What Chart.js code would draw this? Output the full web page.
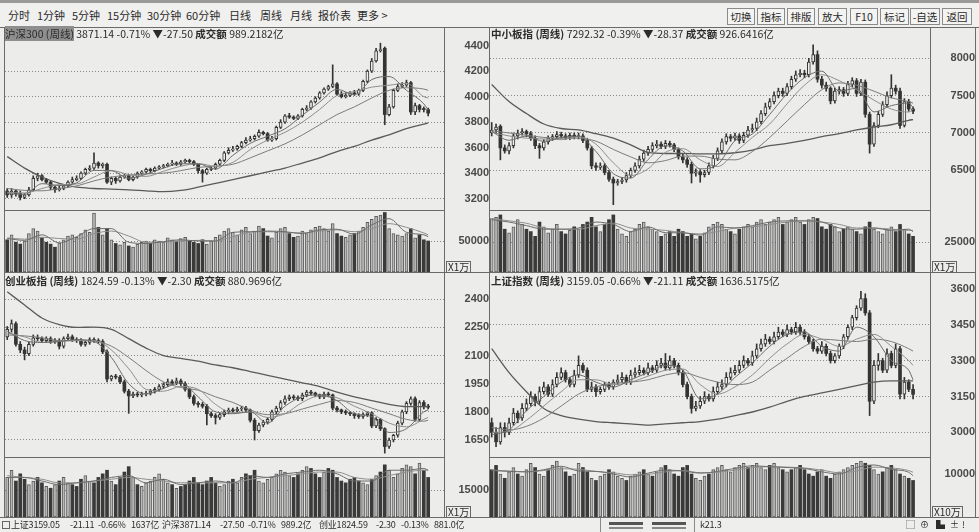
<!DOCTYPE html>
<html>
<head>
<meta charset="utf-8">
<title>周线 四窗口</title>
<script src="https://cdn.jsdelivr.net/npm/chart.js@4.4.1/dist/chart.umd.min.js"></script>
<style>
  body { margin:0; width:979px; height:532px; background:#ececea; position:relative; overflow:hidden;
         font-family:"Noto Sans CJK SC", "Liberation Sans", sans-serif; color:#2b2b2b; }
  .tb { position:absolute; top:6px; font-size:11px; line-height:18px; white-space:nowrap; }
  .btn { position:absolute; top:8px; height:15px; border:1px solid #8a8a8a; font-size:10.5px; line-height:15px;
         text-align:center; background:#f3f3f1; }
  .hdr { position:absolute; font-size:10.5px; line-height:12px; white-space:nowrap; }
  .hdr b { font-weight:bold; }
  .hdr .hi { background:#8e8e8e; }
  .unit { position:absolute; border:1px solid #666; font-size:10px; line-height:10px; padding:0 1px; white-space:nowrap; }
  .st { position:absolute; top:519px; font-size:9px; line-height:12px; white-space:nowrap; letter-spacing:-0.2px; }
  canvas { position:absolute; }
</style>
</head>
<body>
<div style="position:absolute;left:0;top:0;width:979px;height:3px;background:#9a9a9a"></div>
<div style="position:absolute;left:0;top:3px;width:979px;height:24px;background:#f0f0ee"></div>

<span class="tb" style="left:8px">分时</span>
<span class="tb" style="left:37px">1分钟</span>
<span class="tb" style="left:72px">5分钟</span>
<span class="tb" style="left:107px">15分钟</span>
<span class="tb" style="left:147px">30分钟</span>
<span class="tb" style="left:186px">60分钟</span>
<span class="tb" style="left:229px">日线</span>
<span class="tb" style="left:260px">周线</span>
<span class="tb" style="left:290px">月线</span>
<span class="tb" style="left:318px">报价表</span>
<span class="tb" style="left:357px">更多 &gt;</span>

<div class="btn" style="left:727px;width:26px">切换</div>
<div class="btn" style="left:757px;width:26px">指标</div>
<div class="btn" style="left:787px;width:26px">排版</div>
<div class="btn" style="left:818px;width:27px">放大</div>
<div class="btn" style="left:850px;width:26px">F10</div>
<div class="btn" style="left:880px;width:27px">标记</div>
<div class="btn" style="left:910px;width:28px">-自选</div>
<div class="btn" style="left:942px;width:28px">返回</div>

<script>
// ---- data -------------------------------------------------------------
// weekly candles, 98 weeks; moving averages read every 4 weeks
const maIdx = [0,4,8,12,16,20,24,28,32,36,40,44,48,52,56,60,64,68,72,76,80,84,88,92,96,97];

// 沪深300
const hs300Open = [3260,3230,3260,3240,3210,3230,3270,3360,3380,3350,
  3330,3290,3270,3280,3300,3330,3350,3360,3400,3430,
  3440,3480,3460,3470,3330,3360,3340,3370,3380,3350,
  3370,3400,3410,3430,3420,3440,3450,3460,3470,3480,
  3470,3490,3500,3490,3470,3420,3400,3430,3440,3470,
  3500,3560,3580,3590,3610,3640,3660,3670,3690,3720,
  3710,3660,3670,3760,3800,3850,3840,3830,3850,3900,
  3910,3960,3990,4030,4060,4080,4100,4020,4000,4010,
  4030,4020,4050,4120,4200,4280,4360,4380,3860,3920,
  4050,4080,4090,4110,3880,3930,3900,3899];
const hs300High = [3280,3280,3270,3260,3240,3290,3380,3400,3390,3360,
  3340,3300,3300,3310,3340,3370,3380,3410,3440,3460,
  3560,3490,3480,3480,3370,3370,3380,3390,3390,3380,
  3410,3420,3440,3440,3450,3460,3470,3480,3500,3490,
  3500,3510,3510,3500,3470,3430,3440,3450,3480,3510,
  3570,3600,3610,3620,3650,3680,3690,3700,3740,3730,
  3720,3690,3770,3820,3860,3870,3850,3860,3910,3930,
  3970,4000,4040,4070,4090,4250,4110,4040,4030,4040,
  4050,4060,4130,4210,4300,4380,4420,4390,3940,4060,
  4100,4110,4130,4120,3950,3940,3920,3910];
const hs300Low = [3210,3210,3220,3190,3200,3220,3260,3340,3340,3320,
  3270,3250,3260,3270,3290,3320,3340,3350,3390,3420,
  3430,3440,3440,3320,3310,3320,3330,3360,3340,3340,
  3360,3390,3400,3400,3410,3430,3440,3450,3460,3460,
  3460,3480,3480,3460,3400,3330,3390,3420,3430,3460,
  3490,3550,3570,3580,3600,3630,3650,3660,3680,3700,
  3650,3650,3660,3750,3790,3830,3820,3820,3840,3890,
  3900,3950,3980,4020,4050,4070,4010,3990,3990,4000,
  4010,4010,4040,4110,4190,4270,4350,3780,3850,3910,
  4040,4070,4080,3860,3860,3880,3880,3850];
const hs300Close = [3230,3260,3240,3210,3230,3270,3360,3380,3350,3330,
  3290,3270,3280,3300,3330,3350,3360,3400,3430,3440,
  3480,3460,3470,3330,3360,3340,3370,3380,3350,3370,
  3400,3410,3430,3420,3440,3450,3460,3470,3480,3470,
  3490,3500,3490,3470,3420,3400,3430,3440,3470,3500,
  3560,3580,3590,3610,3640,3660,3670,3690,3720,3710,
  3660,3670,3760,3800,3850,3840,3830,3850,3900,3910,
  3960,3990,4030,4060,4080,4100,4020,4000,4010,4030,
  4020,4050,4120,4200,4280,4360,4370,3860,3920,4050,
  4080,4090,4110,3880,3930,3900,3899,3871];
const hs300Vol = [52000,60000,48000,45000,50000,62000,70000,66000,55000,48000,
  45000,40000,47000,52000,58000,60000,56000,62000,68000,64000,
  95000,72000,60000,70000,52000,46000,44000,48000,42000,40000,
  45000,48000,50000,46000,52000,50000,48000,55000,52000,50000,
  54000,56000,50000,48000,46000,52000,45000,50000,56000,60000,
  66000,70000,64000,60000,68000,72000,62000,66000,74000,70000,
  58000,55000,64000,70000,72000,62000,56000,58000,66000,62000,
  68000,72000,74000,70000,66000,78000,62000,58000,56000,60000,
  62000,66000,72000,80000,85000,90000,92000,96000,70000,62000,
  60000,58000,62000,70000,55000,60000,52000,50000];
const hs300Ma5  = [3240,3234,3318,3304,3324,3422,3420,3360,3392,3440,3474,3474,3432,3540,3634,3690,3748,3854,3958,4058,4016,4134,4158,4050,3944,3896];
const hs300Ma10 = [3250,3245,3280,3310,3315,3370,3420,3390,3375,3415,3455,3475,3455,3485,3585,3660,3720,3800,3900,4010,4040,4075,4090,4105,4000,3990];
const hs300Ma20 = [3280,3265,3262,3280,3300,3340,3370,3385,3395,3400,3420,3445,3455,3470,3520,3575,3630,3700,3780,3860,3920,3990,4050,4070,4060,4050];
const hs300Ma60 = [3530,3440,3370,3320,3290,3280,3275,3270,3262,3255,3265,3290,3320,3350,3380,3410,3440,3480,3520,3570,3610,3660,3700,3750,3785,3795];
const hs300VolMa5  = [54000,51000,60000,47000,57000,70000,70000,48000,46000,49000,52000,50000,50000,64000,65000,66000,65000,62000,68000,69000,61000,76000,86000,64000,60000,57000];
const hs300VolMa10 = [55000,53000,56000,54000,53000,62000,66000,58000,48000,48000,50000,51000,50000,57000,64000,65000,64000,63000,66000,68000,65000,70000,78000,72000,63000,60000];

// 中小板指
const smeOpen = [7000,7040,7090,6800,6760,6830,6960,7000,7020,6990,
  6930,6830,6800,6880,6930,6950,6980,6960,6940,6970,
  6950,6960,6900,6790,6560,6540,6560,6470,6380,6330,
  6350,6370,6430,6500,6560,6650,6730,6780,6830,6850,
  6820,6860,6840,6780,6680,6640,6580,6460,6480,6440,
  6470,6560,6660,6760,6880,6950,6930,6960,6900,6970,
  7040,7060,7150,7260,7350,7420,7500,7560,7530,7620,
  7720,7780,7800,7780,7950,8050,7720,7640,7600,7430,
  7560,7580,7530,7650,7700,7530,7680,7250,6850,7100,
  7250,7380,7500,7600,7560,7100,7420,7321];
const smeHigh = [7140,7120,7110,6840,6870,7000,7040,7060,7040,7020,
  6960,6860,6910,6960,6980,7020,7010,6990,7000,7000,
  7000,6990,6930,6820,6600,6600,6590,6500,6410,6380,
  6400,6470,6530,6600,6690,6770,6820,6870,6900,6880,
  6900,6890,6860,6800,6720,6670,6610,6520,6510,6500,
  6600,6700,6800,6920,6990,6980,7000,6990,7010,7090,
  7120,7200,7300,7400,7460,7550,7600,7600,7660,7760,
  7830,7850,7840,8000,8180,8100,7760,7680,7620,7600,
  7620,7610,7690,7740,7730,7720,7710,7280,7140,7290,
  7420,7550,7780,7640,7600,7460,7450,7350];
const smeLow = [6960,7000,6640,6730,6720,6800,6920,6970,6950,6900,
  6790,6660,6770,6850,6900,6920,6930,6910,6910,6920,
  6920,6870,6770,6520,6500,6510,6440,6350,6040,6300,
  6320,6340,6400,6470,6530,6620,6700,6750,6800,6790,
  6790,6810,6750,6650,6600,6540,6330,6420,6340,6410,
  6440,6530,6630,6730,6850,6890,6900,6860,6870,6940,
  7010,7030,7120,7230,7320,7390,7470,7490,7500,7590,
  7690,7750,7740,7750,7920,7680,7600,7560,7390,7400,
  7520,7490,7500,7620,7490,7500,7210,6730,6820,7070,
  7220,7350,7470,7520,7060,7080,7290,7260];
const smeClose = [7040,7080,6800,6760,6830,6960,7000,7020,6990,6930,
  6830,6800,6880,6930,6950,6980,6960,6940,6970,6950,
  6960,6900,6800,6560,6540,6560,6470,6380,6330,6350,
  6370,6430,6500,6560,6650,6730,6780,6830,6850,6820,
  6860,6840,6780,6680,6640,6580,6460,6480,6440,6470,
  6560,6660,6760,6880,6950,6930,6960,6900,6970,7040,
  7060,7150,7260,7350,7420,7500,7560,7530,7620,7720,
  7780,7800,7780,7950,8050,7720,7640,7600,7430,7560,
  7580,7530,7650,7700,7530,7680,7250,6850,7100,7250,
  7380,7500,7600,7560,7100,7420,7321,7292];
const smeVol = [45000,46000,48000,36000,33000,38000,44000,40000,36000,34000,
  30000,42000,38000,33000,36000,40000,34000,32000,35000,38000,
  36000,40000,42000,46000,38000,34000,40000,44000,48000,36000,
  32000,30000,34000,36000,40000,42000,38000,36000,34000,30000,
  32000,34000,30000,36000,34000,30000,32000,28000,30000,33000,
  38000,40000,42000,40000,36000,34000,32000,36000,38000,40000,
  38000,42000,44000,40000,42000,44000,46000,40000,42000,44000,
  46000,42000,40000,44000,46000,45000,38000,36000,40000,38000,
  34000,36000,38000,36000,34000,32000,38000,42000,36000,34000,
  32000,36000,38000,34000,40000,36000,32000,30000];
const smeMa5  = [7020,6902,6960,6886,6940,6956,6752,6456,6396,6644,6828,6760,6520,6578,6896,6986,7248,7526,7740,7828,7562,7598,7282,7366,7400,7339];
const smeMa10 = [7010,6960,6930,6920,6910,6950,6850,6600,6430,6520,6740,6790,6640,6550,6740,6940,7120,7390,7640,7780,7700,7580,7440,7320,7280,7320];
const smeMa20 = [7030,7000,6970,6940,6930,6930,6890,6780,6680,6600,6630,6690,6690,6650,6640,6750,6940,7160,7380,7580,7670,7640,7560,7470,7420,7400];
const smeMa60 = [7650,7420,7260,7120,7060,7040,6990,6930,6840,6740,6725,6725,6720,6720,6735,6770,6830,6860,6900,6950,6990,7040,7080,7110,7170,7180];
const smeVolMa5  = [44000,42000,39000,36000,36000,37000,42000,40000,34000,38000,33000,33000,31000,38000,37000,39000,42000,43000,43000,42000,37000,36000,37000,35000,36000,34000];
const smeVolMa10 = [45000,43000,41000,37000,36000,36000,39000,41000,37000,36000,35000,33000,32000,34000,37000,38000,40000,42000,43000,42000,40000,37000,37000,36000,35000,35000];

// 创业板指
const gemOpen = [2200,2240,2270,2160,2130,2110,2160,2195,2190,2180,
  2190,2175,2180,2150,2190,2200,2185,2180,2160,2170,
  2185,2180,2175,2120,1975,1990,1985,1960,1910,1885,
  1895,1890,1895,1900,1910,1920,1935,1945,1960,1955,
  1965,1950,1920,1880,1845,1840,1830,1790,1780,1770,
  1785,1800,1810,1805,1815,1820,1810,1755,1700,1730,
  1745,1760,1800,1820,1850,1870,1880,1875,1870,1890,
  1905,1900,1890,1880,1895,1890,1820,1810,1800,1795,
  1790,1780,1775,1785,1795,1725,1760,1710,1615,1650,
  1675,1740,1800,1845,1870,1760,1850,1827];
const gemHigh = [2255,2290,2280,2175,2145,2170,2210,2210,2200,2200,
  2200,2190,2190,2200,2215,2210,2195,2190,2180,2195,
  2195,2190,2185,2130,1995,2000,1995,1970,1920,1905,
  1905,1905,1910,1920,1930,1945,1955,1975,1970,1980,
  1975,1960,1925,1890,1855,1850,1840,1800,1790,1795,
  1810,1820,1820,1825,1830,1830,1815,1765,1740,1755,
  1770,1810,1830,1860,1885,1890,1890,1885,1900,1915,
  1915,1905,1895,1905,1905,1895,1830,1815,1810,1800,
  1795,1790,1795,1800,1800,1770,1765,1715,1660,1680,
  1750,1810,1855,1880,1880,1860,1860,1840];
const gemLow = [2185,2225,2150,2115,2077,2100,2150,2180,2170,2170,
  2165,2165,2135,2140,2180,2175,2170,2150,2150,2160,
  2170,2165,2110,1960,1965,1975,1950,1900,1792,1875,
  1880,1880,1885,1890,1900,1910,1925,1935,1945,1945,
  1940,1910,1870,1835,1825,1820,1730,1770,1735,1760,
  1775,1790,1795,1795,1805,1800,1745,1650,1690,1720,
  1735,1750,1790,1810,1840,1860,1865,1860,1860,1880,
  1890,1880,1870,1870,1880,1810,1800,1790,1785,1780,
  1765,1765,1765,1775,1715,1715,1700,1580,1605,1640,
  1665,1730,1790,1835,1750,1750,1815,1815];
const gemClose = [2240,2270,2160,2130,2110,2160,2195,2190,2180,2190,
  2175,2180,2150,2190,2200,2185,2180,2160,2170,2185,
  2180,2175,2120,1975,1990,1985,1960,1910,1885,1895,
  1890,1895,1900,1910,1920,1935,1945,1960,1955,1965,
  1950,1920,1880,1845,1840,1830,1790,1780,1770,1785,
  1800,1810,1805,1815,1820,1810,1755,1700,1730,1745,
  1760,1800,1820,1850,1870,1880,1875,1870,1890,1905,
  1900,1890,1880,1895,1890,1820,1810,1800,1795,1790,
  1780,1775,1785,1795,1725,1760,1710,1615,1650,1675,
  1740,1800,1845,1870,1760,1850,1827,1825];
const gemVol = [22000,26000,20000,24000,21000,18000,20000,22000,19000,17000,
  16000,18000,20000,22000,19000,18000,17000,21000,23000,20000,
  19000,22000,24000,26000,20000,18000,22000,25000,28000,22000,
  18000,17000,19000,20000,22000,24000,21000,19000,18000,16000,
  17000,18000,20000,22000,19000,18000,20000,22000,19000,17000,
  18000,20000,21000,19000,22000,24000,23000,26000,20000,19000,
  21000,22000,24000,26000,25000,23000,22000,24000,26000,28000,
  27000,24000,22000,25000,27000,26000,22000,20000,19000,21000,
  22000,20000,19000,18000,21000,23000,25000,29000,26000,22000,
  24000,27000,29000,28000,24000,30000,26000,22000];
const gemMa5  = [2230,2180,2170,2175,2185,2175,2090,1950,1895,1925,1955,1880,1800,1790,1800,1740,1830,1880,1890,1860,1790,1775,1690,1710,1800,1810];
const gemMa10 = [2220,2200,2170,2175,2180,2180,2130,2030,1920,1910,1935,1920,1840,1795,1800,1770,1790,1850,1885,1875,1830,1790,1740,1720,1760,1770];
const gemMa20 = [2210,2205,2195,2180,2180,2178,2150,2090,2020,1960,1930,1915,1880,1850,1810,1785,1790,1815,1840,1860,1850,1820,1790,1760,1750,1755];
const gemMa60 = [2440,2370,2300,2265,2250,2252,2240,2190,2140,2100,2085,2070,2050,2035,2015,1995,1975,1955,1935,1905,1880,1860,1840,1828,1828,1828];
const gemVolMa5  = [22000,22000,20000,18000,19000,20000,22000,23000,19000,21000,18000,19000,20000,19000,23000,22000,24000,25000,26000,24000,20000,20000,26000,26000,27000,26000];
const gemVolMa10 = [23000,22000,21000,19000,19000,20000,21000,22000,21000,20000,19000,19000,19000,19000,21000,22000,23000,24000,25000,25000,22000,21000,23000,25000,26000,26000];

// 上证指数
const shOpen = [3040,3000,2960,3020,3000,3040,3080,3060,3100,3120,
  3150,3130,3170,3190,3160,3200,3230,3250,3220,3200,
  3240,3280,3260,3180,3190,3170,3180,3200,3190,3210,
  3220,3230,3210,3240,3250,3260,3250,3270,3260,3280,
  3290,3270,3300,3280,3250,3200,3150,3100,3110,3130,
  3150,3140,3170,3190,3200,3230,3250,3260,3280,3300,
  3290,3320,3350,3370,3390,3380,3400,3420,3410,3430,
  3420,3440,3420,3400,3380,3350,3340,3360,3330,3300,
  3320,3360,3400,3440,3480,3520,3560,3500,3130,3280,
  3300,3260,3330,3280,3350,3160,3210,3180];
const shHigh = [3060,3020,3040,3040,3060,3100,3090,3120,3140,3170,
  3160,3190,3210,3200,3220,3250,3270,3260,3230,3260,
  3320,3290,3270,3210,3200,3190,3210,3210,3220,3240,
  3250,3240,3260,3270,3280,3270,3290,3280,3300,3310,
  3330,3320,3310,3290,3260,3210,3160,3130,3150,3170,
  3160,3190,3210,3220,3250,3270,3280,3300,3320,3310,
  3340,3370,3390,3410,3400,3420,3440,3430,3450,3440,
  3460,3450,3430,3410,3390,3360,3380,3370,3340,3330,
  3370,3410,3450,3490,3530,3590,3580,3510,3300,3330,
  3310,3350,3340,3370,3360,3230,3220,3200];
const shLow = [2980,2940,2950,2980,2990,3030,3040,3050,3090,3110,
  3110,3120,3160,3150,3150,3190,3220,3210,3190,3190,
  3230,3250,3170,3170,3150,3160,3170,3180,3180,3200,
  3210,3200,3200,3230,3240,3240,3240,3250,3250,3270,
  3260,3260,3270,3240,3190,3140,3080,3090,3100,3120,
  3130,3130,3160,3180,3190,3220,3240,3250,3270,3280,
  3280,3310,3340,3360,3370,3370,3390,3400,3400,3410,
  3410,3410,3390,3370,3340,3330,3330,3320,3290,3290,
  3310,3350,3390,3430,3470,3510,3490,3070,3120,3260,
  3250,3250,3270,3270,3140,3140,3170,3140];
const shClose = [3000,2960,3020,3000,3040,3080,3060,3100,3120,3150,
  3130,3170,3190,3160,3200,3230,3250,3220,3200,3240,
  3280,3260,3180,3190,3170,3180,3200,3190,3210,3220,
  3230,3210,3240,3250,3260,3250,3270,3260,3280,3290,
  3270,3300,3280,3250,3200,3150,3100,3110,3130,3150,
  3140,3170,3190,3200,3230,3250,3260,3280,3300,3290,
  3320,3350,3370,3390,3380,3400,3420,3410,3430,3420,
  3440,3420,3400,3380,3350,3340,3360,3330,3300,3320,
  3360,3400,3440,3480,3520,3560,3500,3130,3280,3300,
  3260,3330,3280,3350,3160,3210,3180,3159];
const shVol = [11000,12000,10000,9000,10500,11500,10000,9500,11000,12500,
  11500,10000,9500,11000,12000,13000,11500,10500,9500,10000,
  12500,11500,10500,9000,8500,9500,10000,11000,10500,9500,
  9000,8500,9500,10000,10500,11000,10000,9500,10500,11500,
  12000,11000,10000,9500,11500,12000,10000,9000,8500,9500,
  10000,11000,11500,12000,11000,10500,11500,12000,12500,11500,
  12000,12500,11500,11000,12000,12500,11500,11000,10500,11000,
  11500,12000,11000,10000,9500,10500,11000,9500,9000,10000,
  10500,11000,11500,12000,12500,13000,12500,12000,11000,10000,
  10500,11500,12000,11000,10000,9500,9000,8500];
const shMa5  = [2990,3010,3090,3150,3210,3240,3210,3190,3220,3250,3280,3260,3140,3160,3230,3290,3360,3410,3420,3360,3340,3440,3400,3300,3260,3220];
const shMa10 = [3000,3005,3050,3110,3170,3220,3220,3200,3210,3235,3260,3265,3200,3160,3190,3240,3310,3370,3410,3390,3360,3390,3410,3360,3300,3280];
const shMa20 = [3020,3010,3025,3060,3110,3160,3190,3205,3210,3220,3240,3250,3230,3210,3200,3210,3260,3310,3360,3390,3385,3380,3390,3380,3350,3340];
const shMa60 = [3350,3250,3170,3100,3070,3055,3045,3040,3035,3030,3035,3040,3045,3055,3070,3085,3105,3130,3150,3165,3180,3195,3210,3215,3215,3215];
const shVolMa5  = [10800,10600,10500,11000,11800,10700,10600,10000,9300,10200,10900,10700,10200,10600,11300,11900,11700,11500,11300,10500,10000,11500,12100,11100,10400,9600];
const shVolMa10 = [10900,10700,10500,10800,11200,11100,10600,10300,9800,9900,10500,10800,10300,10400,10900,11500,11700,11600,11400,10900,10300,10700,11600,11400,10800,10400];

// axis tick labels
const hs300Ticks = [3200,3400,3600,3800,4000,4200,4400];
const smeTicks = [6500,7000,7500,8000];
const gemTicks = [1650,1800,1950,2100,2250,2400];
const shTicks = [3000,3150,3300,3450,3600];

// ---- drawing ------------------------------------------------------------
const INK = '#343434', PAPER = '#efefed';
const MA_COLORS = ['#6c6c6c', '#8e8e8e', '#7c7c7c', '#5a5a5a'];
const MA_WIDTHS = [1, 1, 1, 1.3];
const VMA_COLORS = ['#6c6c6c', '#8e8e8e'];
const TICK_FONT = { family: '"Liberation Sans", Arial, sans-serif', size: 11, weight: 'bold' };

function rule(x, y, w, h, color) {
  const d = document.createElement('div');
  d.style.cssText = `position:absolute;left:${x}px;top:${y}px;width:${w}px;height:${h}px;background:${color || '#6a6a6a'}`;
  document.body.appendChild(d);
}

function place(left, top, w, h) {
  const cv = document.createElement('canvas');
  cv.width = w; cv.height = h;
  cv.style.cssText = `left:${left}px;top:${top}px;width:${w}px;height:${h}px`;
  document.body.appendChild(cv);
  return cv;
}

function widest(labels) {
  const ctx = document.createElement('canvas').getContext('2d');
  ctx.font = 'bold 11px "Liberation Sans", Arial, sans-serif';
  return Math.max(...labels.map(t => ctx.measureText(t).width));
}

function yAxis(min, max, values) {
  return {
    position: 'right', min, max, beginAtZero: false,
    // fixed axis width, and no extra room for the end labels
    afterFit: s => { s.width = 45; s.paddingTop = 0; s.paddingBottom = 0; },
    afterBuildTicks: s => { s.ticks = values.map(v => ({ value: v })); },
    ticks: { color: '#4a4a4a', font: TICK_FONT, crossAlign: 'far',
             padding: 38 - widest(values.map(String)), callback: v => String(v) },
    // the header strip hides grid lines close to the top edge
    grid: { drawTicks: false, lineWidth: 1,
            color: c => (c.chart.scales.y.getPixelForValue(c.tick.value) < 22 ? 'rgba(0,0,0,0)' : '#8a8a8a') },
    border: { display: false, dash: [1, 2] }
  };
}

function baseOptions(xr, y) {
  return {
    responsive: false, animation: false, events: [],
    layout: { padding: 0 },
    plugins: { legend: { display: false }, tooltip: { enabled: false } },
    scales: {
      x: { type: 'linear', display: false, min: xr[0], max: xr[1], offset: false, grid: { display: false } },
      y: y
    }
  };
}

function maLines(list, colors, widths) {
  return list.map((m, k) => ({
    type: 'line', data: maIdx.map((x, j) => ({ x, y: m[j] })),
    borderColor: colors[k], borderWidth: widths ? widths[k] : 1,
    pointRadius: 0, cubicInterpolationMode: 'monotone', order: 0
  }));
}

function priceChart(cv, xr, o, h, l, c, mas, yr, ticks) {
  const up = c.map((v, i) => v >= o[i]);
  new Chart(cv, {
    type: 'bar',
    data: { datasets: [
      ...maLines(mas, MA_COLORS, MA_WIDTHS),
      { data: c.map((v, i) => ({ x: i, y: [o[i], v] })), barThickness: 3, grouped: false,
        backgroundColor: up.map(u => u ? PAPER : INK), borderColor: INK,
        borderWidth: up.map(u => u ? 1 : 0), borderSkipped: false, minBarLength: 1, order: 1 },
      { data: h.map((v, i) => ({ x: i, y: [l[i], v] })), barThickness: 1, grouped: false,
        backgroundColor: INK, borderWidth: 0, order: 2 }
    ] },
    options: baseOptions(xr, yAxis(yr[0], yr[1], ticks))
  });
}

function volumeChart(cv, xr, o, c, v, vmas, max, tick) {
  const up = c.map((x, i) => x >= o[i]);
  new Chart(cv, {
    type: 'bar',
    data: { datasets: [
      ...maLines(vmas, VMA_COLORS),
      { data: v.map((y, i) => ({ x: i, y })), barThickness: 3, grouped: false,
        backgroundColor: up.map(u => u ? '#b9b9b9' : '#3a3a3a'),
        borderColor: up.map(u => u ? '#5c5c5c' : '#3a3a3a'),
        borderWidth: up.map(u => u ? 1 : 0), borderSkipped: false, order: 1 }
    ] },
    options: baseOptions(xr, yAxis(0, max, [tick]))
  });
}

const LEFT_X = [-0.51, 100.65], RIGHT_X = [-0.39, 100.9];

priceChart(place(5, 28, 484, 182), LEFT_X, hs300Open, hs300High, hs300Low, hs300Close,
  [hs300Ma5, hs300Ma10, hs300Ma20, hs300Ma60], [3111.4, 4538.8], hs300Ticks);
volumeChart(place(5, 211, 484, 61), LEFT_X, hs300Open, hs300Close, hs300Vol,
  [hs300VolMa5, hs300VolMa10], 98400, 50000);

priceChart(place(490, 28, 485, 182), RIGHT_X, smeOpen, smeHigh, smeLow, smeClose,
  [smeMa5, smeMa10, smeMa20, smeMa60], [5968.3, 8405.8], smeTicks);
volumeChart(place(490, 211, 485, 61), RIGHT_X, smeOpen, smeClose, smeVol,
  [smeVolMa5, smeVolMa10], 51300, 25000);

priceChart(place(5, 274, 484, 183), LEFT_X, gemOpen, gemHigh, gemLow, gemClose,
  [gemMa5, gemMa10, gemMa20, gemMa60], [1559.2, 2534.9], gemTicks);
volumeChart(place(5, 458, 484, 59), LEFT_X, gemOpen, gemClose, gemVol,
  [gemVolMa5, gemVolMa10], 32800, 15000);

priceChart(place(490, 274, 485, 183), RIGHT_X, shOpen, shHigh, shLow, shClose,
  [shMa5, shMa10, shMa20, shMa60], [2896.6, 3662.8], shTicks);
volumeChart(place(490, 458, 485, 59), RIGHT_X, shOpen, shClose, shVol,
  [shVolMa5, shVolMa10], 13720, 10000);

// frame lines
rule(0, 27, 979, 1);
[4, 444, 489, 930, 975].forEach(x => rule(x, 27, 1, 490));
rule(4, 210, 440, 1); rule(489, 210, 441, 1);
rule(4, 272, 972, 1);
rule(4, 457, 440, 1); rule(489, 457, 441, 1);
rule(0, 517, 979, 1);

// texts laid over the charts
function html(s) { document.body.insertAdjacentHTML('beforeend', s); }
html('<div class="hdr" style="left:5px;top:28px"><span class="hi">沪深300 (周线)</span> 3871.14 -0.71% ▼-27.50 <b>成交额</b> 989.2182亿</div>');
html('<div class="hdr" style="left:491px;top:28px"><b>中小板指 (周线)</b> 7292.32 -0.39% ▼-28.37 <b>成交额</b> 926.6416亿</div>');
html('<div class="hdr" style="left:5px;top:275px"><b>创业板指 (周线)</b> 1824.59 -0.13% ▼-2.30 <b>成交额</b> 880.9696亿</div>');
html('<div class="hdr" style="left:491px;top:275px"><b>上证指数 (周线)</b> 3159.05 -0.66% ▼-21.11 <b>成交额</b> 1636.5175亿</div>');

html('<div class="unit" style="left:446px;top:261px">X1万</div>');
html('<div class="unit" style="left:932px;top:261px">X1万</div>');
html('<div class="unit" style="left:446px;top:506px">X1万</div>');
html('<div class="unit" style="left:932px;top:506px">X10万</div>');

// status bar
html('<div style="position:absolute;left:0;top:518px;width:979px;height:14px;background:#eeeeec"></div>');
html('<div style="position:absolute;left:2px;top:521px;width:6px;height:6px;border:1px solid #666"></div>');
[[11,'上证3159.05'],[70,'-21.11'],[98,'-0.66%'],[131,'1637亿'],
 [162,'沪深3871.14'],[220,'-27.50'],[248,'-0.71%'],[281,'989.2亿'],
 [319,'创业1824.59'],[376,'-2.30'],[401,'-0.13%'],[434,'881.0亿'],[700,'k21.3']]
  .forEach(([x, t]) => html(`<span class="st" style="left:${x}px">${t}</span>`));
rule(600, 518, 1, 14, '#888'); rule(694, 518, 1, 14, '#888');
rule(609, 522, 34, 3, '#555'); rule(609, 527, 34, 2, '#888');
rule(652, 522, 34, 3, '#555'); rule(652, 527, 34, 2, '#888');
[[906,'▢'],[920,'⊕'],[936,'▙'],[950,'±'],[962,'!']]
  .forEach(([x, t]) => html(`<span class="st" style="left:${x}px">${t}</span>`));
</script>
</body>
</html>
